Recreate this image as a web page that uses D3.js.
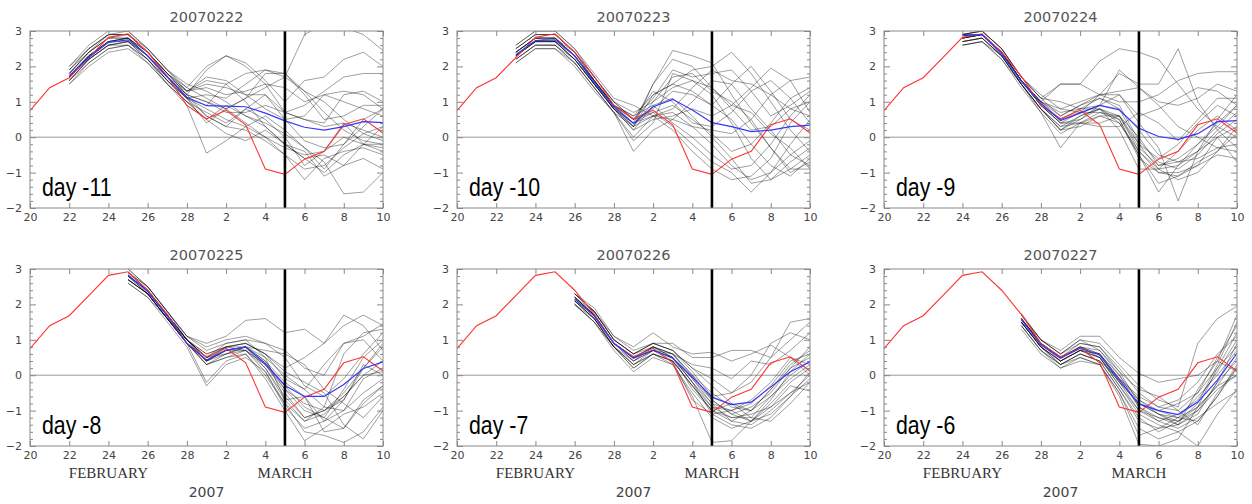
<!DOCTYPE html>
<html>
<head>
<meta charset="utf-8">
<script src="https://cdn.jsdelivr.net/npm/d3@7"></script>
<style>
  body { margin: 0; background: #fff; }
  .axis text { font-family: "DejaVu Sans", sans-serif; font-size: 11px; fill: #444; }
  .axis line { stroke: #888; }
  .axis path { display: none; }
</style>
</head>
<body>
<div id="chart"></div>
<script>
// day index 0 = Feb 20 ... 18 = Mar 10 (2007)
var tickDays = [0, 2, 4, 6, 8, 10, 12, 14, 16, 18];
var tickLabels = ["20", "22", "24", "26", "28", "2", "4", "6", "8", "10"];
var yTicks = [-2, -1, 0, 1, 2, 3];
var yTickLabels = ["\u22122", "\u22121", "0", "1", "2", "3"];
var eventDay = 13; // March 5

var titles = ["20070222", "20070223", "20070224", "20070225", "20070226", "20070227"];
var leadLabels = ["day -11", "day -10", "day -9", "day -8", "day -7", "day -6"];
var startDays = [2, 3, 4, 5, 6, 7];

// observed (red)
var observed = [0.75, 1.4, 1.68, 2.25, 2.82, 2.92, 2.4, 1.72, 0.9, 0.52, 0.76, 0.35, -0.9, -1.05, -0.62, -0.4, 0.35, 0.52, 0.12];

// ensemble means (blue)
var mean1 = [1.74, 2.25, 2.68, 2.75, 2.3, 1.7, 1.13, 0.89, 0.88, 0.86, 0.68, 0.46, 0.28, 0.2, 0.3, 0.44, 0.41];
var mean2 = [2.33, 2.73, 2.75, 2.3, 1.55, 0.86, 0.39, 0.86, 1.07, 0.77, 0.41, 0.3, 0.16, 0.2, 0.3, 0.34];
var mean3 = [2.87, 2.9, 2.35, 1.58, 0.95, 0.47, 0.68, 0.9, 0.77, 0.25, 0.02, -0.06, 0.1, 0.44, 0.47];
var mean4 = [2.83, 2.36, 1.67, 0.9, 0.43, 0.71, 0.79, 0.33, -0.29, -0.6, -0.6, -0.26, 0.19, 0.38];
var mean5 = [2.15, 1.67, 0.9, 0.48, 0.71, 0.48, -0.05, -0.62, -0.83, -0.76, -0.33, 0.1, 0.38];
var mean6 = [1.57, 0.86, 0.48, 0.76, 0.57, -0.14, -0.81, -1.0, -1.11, -0.76, -0.14, 0.62];

// ensemble members (black)
var members1 = [
  [1.5, 2.1, 2.5, 2.6, 2.2, 1.6, 1.1, 0.6, 0.3, 0.2, -0.1, -0.5, -0.9, -0.8, -0.3, 0.1, 0.3],
  [1.9, 2.5, 2.9, 2.9, 2.4, 1.8, 1.2, 1.9, 2.3, 2.0, 1.5, 0.7, 0.9, 1.3, 1.7, 1.8, 1.8],
  [1.7, 2.3, 2.7, 2.8, 2.3, 1.7, 1.2, 1.0, 0.8, 1.1, 1.4, 1.7, 2.9, 3.2, 3.1, 2.9, 2.45],
  [1.6, 2.2, 2.6, 2.7, 2.2, 1.5, 0.9, -0.45, -0.1, 0.3, 0.0, -0.5, -1.2, -0.6, -0.4, -0.3, -0.5],
  [2.0, 2.6, 3.0, 3.0, 2.5, 1.9, 1.5, 1.3, 1.0, 0.6, 0.4, 0.1, -0.3, -0.7, -1.6, -1.55, -1.0],
  [1.8, 2.4, 2.8, 2.9, 2.4, 1.8, 1.3, 1.7, 1.6, 1.2, 0.8, 0.5, 0.6, 1.2, 1.3, 1.2, 0.8],
  [1.6, 2.2, 2.6, 2.6, 2.1, 1.5, 1.0, 0.5, 0.1, -0.1, 0.2, -0.2, -0.6, -1.0, -0.5, -0.2, -0.3],
  [1.7, 2.3, 2.7, 2.8, 2.4, 1.8, 1.4, 2.0, 2.3, 2.1, 1.6, 1.0, 1.6, 1.7, 2.2, 2.4, 2.0],
  [1.9, 2.4, 2.8, 2.8, 2.3, 1.7, 1.1, 0.9, 1.5, 1.8, 1.9, 1.8, 1.3, 0.7, 0.2, -0.1, -0.2],
  [1.6, 2.1, 2.5, 2.6, 2.2, 1.6, 1.1, 0.4, 0.8, 0.4, 0.0, -0.3, -0.5, -0.4, 0.0, -0.2, -0.4],
  [1.8, 2.4, 2.9, 2.9, 2.5, 1.9, 1.4, 1.1, 0.8, 1.1, 1.8, 1.8, 1.2, 0.5, 0.6, 0.9, 0.9],
  [1.7, 2.3, 2.7, 2.7, 2.2, 1.6, 1.0, 0.7, 0.4, 0.8, 0.5, 0.0, -0.8, -0.4, 0.4, 0.2, 0.0],
  [1.5, 2.0, 2.4, 2.5, 2.1, 1.5, 1.0, 0.5, 0.9, 0.6, 0.3, -0.2, -0.4, -1.1, -0.8, -0.2, 0.3],
  [1.9, 2.5, 2.9, 3.0, 2.5, 1.9, 1.3, 1.4, 1.2, 1.3, 1.5, 1.4, 1.0, 1.2, 1.0, 0.8, 0.6],
  [1.7, 2.2, 2.6, 2.7, 2.3, 1.7, 1.2, 1.0, 0.7, 0.7, 0.9, 0.7, 0.5, 0.3, 0.4, -0.2, -0.2],
  [1.8, 2.4, 2.8, 2.8, 2.4, 1.7, 1.1, 0.8, 0.5, 0.3, 0.6, 0.2, -0.3, -0.9, -0.2, 0.3, 0.8],
  [1.6, 2.2, 2.6, 2.7, 2.3, 1.6, 1.1, 1.2, 1.1, 1.5, 1.9, 1.7, 1.3, 1.0, 0.5, 0.1, -0.1],
  [2.0, 2.5, 2.9, 2.9, 2.4, 1.8, 1.2, 0.6, 0.3, 0.8, 1.2, 0.5, -0.1, -0.3, -0.2, 0.5, 0.8],
  [1.7, 2.3, 2.7, 2.8, 2.3, 1.7, 1.3, 1.6, 1.5, 1.0, 0.3, -0.2, -0.6, -0.5, -0.8, -0.6, -0.9],
  [1.8, 2.3, 2.7, 2.8, 2.4, 1.8, 1.3, 1.5, 1.4, 1.2, 1.2, 0.7, 0.5, 0.4, 1.2, 1.3, 1.0]
];
var members2 = [
  [2.1, 2.5, 2.5, 2.0, 1.3, 0.7, 0.3, 1.5, 2.45, 2.3, 2.1, 1.2, 0.4, -0.3, -0.9, -0.9],
  [2.4, 2.8, 2.8, 2.3, 1.6, 0.9, 0.6, 1.2, 1.5, 1.9, 2.0, 2.4, 1.8, 1.0, 0.2, -0.4],
  [2.6, 3.0, 3.0, 2.5, 1.8, 1.1, 0.9, 0.6, 0.5, 0.3, 0.2, 0.1, 0.5, 1.2, 1.6, 1.7],
  [2.2, 2.6, 2.6, 2.1, 1.4, 0.7, 0.0, 0.6, 0.2, -0.4, -0.9, -1.2, -1.1, -0.6, 0.4, 1.0],
  [2.3, 2.7, 2.7, 2.2, 1.5, 0.8, 0.2, 0.9, 1.1, 0.6, 0.0, -0.6, -1.3, -1.2, -0.7, -0.3],
  [2.5, 2.9, 2.9, 2.4, 1.7, 1.0, 0.5, 1.1, 1.9, 1.7, 1.8, 1.9, 1.3, 0.6, 0.9, 1.3],
  [2.4, 2.8, 2.8, 2.4, 1.6, 0.9, 0.4, 0.7, 0.3, -0.2, -0.7, -1.0, -1.55, -1.0, -0.5, -0.1],
  [2.3, 2.7, 2.7, 2.2, 1.5, 0.8, 0.4, 1.5, 2.2, 2.0, 1.4, 0.9, 1.4, 1.95, 1.6, 0.7],
  [2.2, 2.6, 2.6, 2.1, 1.4, 0.7, -0.4, 0.2, 0.5, 1.0, 1.6, 1.5, 0.8, 0.2, -0.5, -0.8],
  [2.5, 2.9, 2.9, 2.4, 1.6, 0.9, 0.5, 0.8, 1.3, 1.2, 0.9, 0.5, -0.2, -0.8, -1.1, -0.6],
  [2.3, 2.7, 2.7, 2.2, 1.5, 0.8, 0.3, 0.6, 0.8, 1.4, 1.9, 1.6, 1.5, 1.2, 0.8, 1.0],
  [2.4, 2.8, 2.7, 2.3, 1.6, 0.9, 0.6, 0.9, 0.4, 0.0, -0.5, -0.9, -0.8, -0.2, 0.6, 1.2],
  [2.1, 2.5, 2.5, 2.1, 1.4, 0.7, -0.1, 0.4, 1.8, 1.6, 1.2, 0.4, -0.6, -1.2, -0.9, -0.5],
  [2.6, 3.0, 3.0, 2.5, 1.7, 1.0, 0.5, 1.3, 1.0, 0.4, 0.3, 0.7, 1.3, 1.6, 1.1, 0.4],
  [2.3, 2.7, 2.7, 2.2, 1.5, 0.8, 0.3, 1.0, 1.4, 1.6, 1.4, 0.8, 0.2, 0.3, 0.8, 0.6],
  [2.4, 2.8, 2.8, 2.3, 1.6, 0.8, 0.4, 0.6, 0.7, 0.3, -0.2, -0.8, -1.2, -1.0, -0.2, 0.5],
  [2.2, 2.6, 2.6, 2.2, 1.5, 0.9, 0.3, 1.2, 1.5, 1.3, 0.9, 1.5, 2.0, 1.3, 0.5, 0.2],
  [2.5, 2.9, 2.9, 2.4, 1.7, 1.0, 0.7, 1.0, 1.7, 1.8, 1.3, 1.0, 0.5, -0.3, -1.0, -0.7],
  [2.3, 2.7, 2.8, 2.3, 1.6, 0.9, 0.5, 0.7, 0.9, 0.5, 0.1, -0.4, -0.2, 0.4, 1.1, 1.4],
  [2.4, 2.8, 2.8, 2.3, 1.5, 0.8, 0.2, 0.5, 0.6, 0.8, 0.6, 0.9, 0.7, 0.1, -0.3, -0.9]
];
var members3 = [
  [2.6, 2.7, 2.3, 1.5, 0.7, -0.3, 0.4, 0.7, 0.6, 0.0, -0.8, -0.7, -0.6, -0.3, -0.2],
  [2.9, 3.0, 2.5, 1.7, 1.1, 1.5, 1.5, 2.15, 2.5, 2.4, 2.2, 1.5, 0.8, 0.3, 0.0],
  [2.8, 2.9, 2.4, 1.6, 1.0, 0.6, 0.9, 1.1, 0.9, -0.1, -0.7, -0.9, -0.5, 0.1, 0.5],
  [2.7, 2.8, 2.3, 1.5, 0.8, 0.2, 0.5, 0.8, 0.4, -0.5, -1.55, -0.8, -0.4, 0.2, 0.7],
  [2.9, 2.9, 2.4, 1.6, 1.0, 1.5, 1.5, 1.2, 1.2, 0.4, -0.3, -1.8, -0.4, 0.5, 1.2],
  [2.8, 2.9, 2.4, 1.6, 0.9, 0.4, 0.5, 0.9, 1.9, 1.4, 0.9, 0.3, 0.0, -0.3, -0.4],
  [2.6, 2.7, 2.2, 1.4, 0.7, 0.1, 0.4, 0.6, 0.4, -0.4, -0.9, -0.8, -0.2, 0.3, 0.9],
  [2.9, 3.0, 2.5, 1.7, 1.2, 0.8, 1.0, 1.2, 1.8, 1.5, 1.5, 2.5, 1.0, 0.2, -0.3],
  [2.8, 2.9, 2.4, 1.6, 0.9, 0.5, 0.8, 0.8, 0.5, -0.6, -1.0, -1.1, -0.8, -0.5, -0.6],
  [2.7, 2.8, 2.3, 1.5, 0.8, 0.3, 0.6, 0.8, 0.6, -0.3, -0.8, -0.6, -0.2, 0.4, 0.9],
  [2.9, 2.9, 2.4, 1.6, 1.0, 0.8, 0.7, 1.2, 1.0, 1.0, 1.2, 1.6, 1.8, 1.85, 1.85],
  [2.8, 2.9, 2.4, 1.6, 0.9, 0.4, 0.4, 0.4, 0.6, -0.2, -0.9, -1.2, -1.0, -0.4, 0.3],
  [2.7, 2.8, 2.3, 1.5, 0.8, 0.3, 0.4, 0.3, 0.3, 0.7, 0.4, -0.1, 0.5, 1.1, 1.1],
  [2.9, 3.0, 2.5, 1.7, 1.1, 0.6, 0.9, 1.2, 1.3, 1.4, 1.0, 0.9, 1.1, 1.5, 1.3],
  [2.8, 2.9, 2.4, 1.6, 1.0, 0.5, 0.7, 0.7, 0.5, -0.5, -1.3, -1.1, -0.7, -0.4, 0.1],
  [2.6, 2.7, 2.2, 1.5, 0.8, 0.2, 0.6, 0.8, 0.2, -0.9, -0.9, -0.4, 0.2, 0.6, 0.2],
  [2.8, 2.9, 2.4, 1.6, 1.0, 0.7, 0.8, 1.1, 0.8, -0.2, -0.6, -0.2, 0.4, 0.9, 0.6],
  [2.9, 3.0, 2.5, 1.7, 1.1, 1.0, 0.8, 0.9, 1.2, 0.6, 0.8, 1.1, 1.4, 1.3, 0.9],
  [2.7, 2.8, 2.3, 1.5, 0.8, 0.2, 0.3, 0.6, 0.6, -0.4, -1.0, -1.0, -0.8, 0.0, -0.7],
  [2.8, 2.9, 2.4, 1.6, 0.9, 0.4, 0.7, 0.9, 0.8, 0.2, -0.5, -0.7, -0.4, 0.0, 0.3]
];
var members4 = [
  [2.6, 2.2, 1.5, 0.8, -0.3, 0.3, 0.5, 0.1, -0.8, -1.6, -1.7, -1.9, -1.6, -0.9],
  [2.9, 2.5, 1.8, 1.1, 0.9, 1.1, 1.55, 1.6, 1.2, 1.3, 0.9, 1.4, 1.7, 1.4],
  [2.8, 2.4, 1.7, 1.0, 0.5, 0.8, 0.8, 0.3, -0.5, -1.2, -1.0, -0.5, 0.2, 0.8],
  [2.7, 2.3, 1.6, 0.9, 0.4, 0.7, 0.8, 0.2, -0.7, -1.3, -1.1, -0.6, 0.0, 0.4],
  [3.0, 2.5, 1.8, 1.1, 0.7, 0.9, 1.0, 0.9, 0.5, -0.3, -0.6, -0.1, 0.6, 1.2],
  [2.8, 2.3, 1.6, 0.9, 0.3, 0.6, 0.8, 0.4, -0.4, -1.0, -1.2, -1.5, -0.7, -0.3],
  [2.9, 2.4, 1.7, 1.0, 0.6, 0.8, 0.9, 0.6, 0.2, 0.5, 0.9, 1.7, 1.4, 0.7],
  [2.7, 2.3, 1.6, 0.9, -0.2, 0.4, 0.6, -0.1, -1.0, -1.85, -1.5, -1.1, -0.9, -0.5],
  [2.8, 2.4, 1.7, 1.0, 0.4, 0.8, 0.7, 0.3, -0.3, -0.9, -1.2, -0.4, 0.5, 1.0],
  [2.9, 2.5, 1.8, 1.0, 0.5, 0.9, 1.0, 0.5, 0.0, -0.4, -0.9, 0.6, 1.2, 1.3],
  [2.6, 2.2, 1.6, 0.9, 0.3, 0.5, 0.6, 0.0, -0.8, -1.3, -0.9, -1.0, -0.5, -0.1],
  [2.8, 2.4, 1.7, 1.0, 0.5, 0.7, 0.8, 0.7, 0.6, 0.3, -0.4, -0.8, -1.2, -0.6],
  [2.7, 2.3, 1.6, 0.9, 0.4, 0.6, 0.7, 0.2, -0.6, -1.2, -1.0, -0.6, 0.0, 0.1],
  [3.0, 2.5, 1.8, 1.1, 0.8, 1.0, 1.1, 0.9, 0.7, 0.2, 0.0, 0.9, 1.0, 0.4],
  [2.8, 2.4, 1.7, 1.0, 0.5, 0.6, 0.8, 0.4, -0.2, -0.6, -1.6, -1.5, -0.8, -0.3],
  [2.7, 2.3, 1.6, 0.9, 0.3, 0.5, 0.7, 0.1, -0.9, -1.5, -1.3, -1.0, -0.1, 0.2],
  [2.9, 2.4, 1.7, 1.0, 0.6, 0.8, 0.9, 0.6, -0.1, -0.4, 0.3, 0.9, 1.1, 1.45],
  [2.8, 2.3, 1.6, 0.9, 0.4, 0.7, 0.7, 0.3, -0.4, -0.8, -1.0, -0.7, 0.3, 0.0],
  [2.7, 2.3, 1.6, 1.0, 0.5, 0.8, 0.9, 0.6, 0.1, -0.2, -0.5, -1.4, -1.8, -1.0],
  [2.8, 2.4, 1.7, 1.0, 0.4, 0.7, 0.8, 0.5, -0.7, -0.6, -1.3, -0.7, 0.2, 0.9]
];
var members5 = [
  [2.0, 1.5, 0.7, 0.1, 0.5, 0.3, -0.6, -1.9, -1.85, -1.3, -0.9, -0.5, -0.2],
  [2.3, 1.9, 1.1, 0.8, 1.2, 0.8, 0.6, 0.65, 0.4, 0.6, 0.85, 0.5, 0.3],
  [2.2, 1.7, 0.9, 0.5, 0.8, 0.5, -0.1, -0.7, -1.1, -1.3, -0.8, -0.2, 0.2],
  [2.1, 1.6, 0.8, 0.3, 0.6, 0.4, -0.3, -1.0, -1.3, -1.4, -1.0, -0.5, 0.0],
  [2.3, 1.8, 1.0, 0.6, 0.9, 0.9, 0.5, 0.5, 0.7, 0.7, 0.5, 1.5, 1.6],
  [2.2, 1.7, 0.9, 0.4, 0.7, 0.5, -0.2, -0.9, -1.2, -1.2, -0.6, 0.0, 0.4],
  [2.1, 1.6, 0.9, 0.5, 0.7, 0.6, 0.0, -0.5, -0.9, -1.0, -0.4, 0.3, 0.7],
  [2.0, 1.5, 0.8, 0.2, 0.6, 0.3, -0.5, -1.2, -1.5, -1.3, -1.1, -0.6, -0.1],
  [2.3, 1.8, 1.0, 0.6, 0.9, 0.7, 0.2, -0.1, -0.5, 0.0, 0.9, 1.2, 1.0],
  [2.2, 1.7, 0.9, 0.5, 0.8, 0.6, -0.1, -0.8, -1.0, -0.8, -0.3, 0.4, 0.6],
  [2.1, 1.6, 0.8, 0.4, 0.7, 0.4, -0.3, -1.0, -1.2, -1.1, -0.9, -0.3, -0.45],
  [2.2, 1.8, 1.0, 0.6, 0.9, 0.7, 0.1, -0.6, -0.5, -0.2, 0.5, 1.0, 1.5],
  [2.0, 1.6, 0.8, 0.3, 0.7, 0.5, -0.2, -1.1, -1.4, -1.5, -1.2, -0.6, 0.1],
  [2.3, 1.8, 1.0, 0.6, 0.8, 0.6, 0.3, 0.2, -0.1, 0.4, 0.3, 0.7, 1.2],
  [2.1, 1.7, 0.9, 0.4, 0.8, 0.5, -0.4, -1.0, -0.8, -1.0, -0.6, -0.1, 0.3],
  [2.2, 1.7, 0.9, 0.5, 0.7, 0.5, -0.2, -0.8, -1.3, -1.0, -0.4, 0.2, 0.8],
  [2.1, 1.6, 0.8, 0.3, 0.6, 0.4, -0.7, -1.1, -1.0, -0.7, -0.2, 0.5, 0.0],
  [2.3, 1.8, 1.1, 0.7, 0.9, 0.7, 0.2, -0.3, -0.8, -1.2, -1.3, -0.8, -0.2],
  [2.2, 1.7, 0.9, 0.5, 0.8, 0.6, 0.0, -0.7, -1.1, -0.9, -0.5, 0.2, 0.5],
  [2.0, 1.5, 0.8, 0.2, 0.6, 0.4, -0.3, -0.9, -1.0, -1.3, -0.7, 0.1, 0.6]
];
var members6 = [
  [1.3, 0.6, 0.2, 0.4, 0.3, -0.6, -1.95, -2.0, -1.8, -0.9, -0.3, 0.0],
  [1.75, 1.0, 0.7, 1.1, 1.1, 0.5, 0.05, -0.2, -0.1, 0.0, 0.4, 0.1],
  [1.6, 0.9, 0.5, 0.8, 0.6, -0.1, -0.9, -1.2, -1.4, -1.0, -0.2, 0.9],
  [1.5, 0.8, 0.4, 0.7, 0.5, -0.3, -1.1, -1.4, -1.6, -1.3, -0.6, 0.3],
  [1.7, 1.0, 0.6, 1.0, 0.9, 0.3, -0.3, -0.7, -0.9, 0.9, 1.6, 1.95],
  [1.5, 0.8, 0.3, 0.6, 0.4, -0.4, -1.2, -1.6, -1.3, -0.9, 0.2, 1.2],
  [1.6, 0.9, 0.5, 0.8, 0.7, 0.0, -0.7, -1.1, -1.3, -0.8, 0.3, 1.5],
  [1.4, 0.7, 0.2, 0.5, 0.3, -0.5, -1.5, -1.8, -1.6, -2.0, -1.1, -0.4],
  [1.7, 1.0, 0.6, 0.9, 0.8, 0.2, -0.5, -0.9, -1.0, -0.5, 0.5, 1.4],
  [1.5, 0.8, 0.4, 0.7, 0.6, -0.2, -0.8, -1.0, -1.2, -0.6, 0.0, 0.7],
  [1.6, 0.9, 0.5, 0.8, 0.5, -0.3, -1.0, -1.3, -1.5, -1.2, -0.8, -0.45],
  [1.5, 0.8, 0.3, 0.6, 0.4, -0.1, -0.6, -0.9, -0.7, -0.2, 0.6, 1.1],
  [1.6, 0.9, 0.5, 0.9, 0.8, 0.1, -0.4, -0.6, -1.0, -1.4, -0.5, 0.2],
  [1.4, 0.7, 0.3, 0.6, 0.4, -0.4, -1.3, -1.5, -1.2, -0.9, -0.3, 0.5],
  [1.7, 1.0, 0.6, 1.0, 0.7, 0.1, -0.8, -1.1, -1.4, -0.4, 0.4, 1.7],
  [1.5, 0.8, 0.4, 0.7, 0.5, -0.2, -1.0, -1.2, -1.3, -1.0, -0.4, 0.0],
  [1.6, 0.9, 0.4, 0.7, 0.6, -0.1, -0.7, -1.0, -0.8, -0.5, 0.2, 0.8],
  [1.4, 0.7, 0.3, 0.5, 0.3, -0.5, -1.7, -1.5, -1.4, -1.1, -0.2, 0.4],
  [1.6, 0.9, 0.5, 0.8, 0.6, 0.0, -0.9, -1.3, -1.1, -0.7, 0.1, 1.0],
  [1.5, 0.8, 0.4, 0.7, 0.5, -0.2, -0.8, -1.1, -1.2, -1.3, -0.6, 0.2]
];

var means = [mean1, mean2, mean3, mean4, mean5, mean6];
var membersAll = [members1, members2, members3, members4, members5, members6];

// layout
var width = 353, height = 177;
var lefts = [30, 457, 884], tops = [31, 269];

var svg = d3.select("#chart")
  .append("svg")
    .attr("width", 1252)
    .attr("height", 504);

var x = d3.scaleLinear().domain([0, 18]).range([0, width]);
var y = d3.scaleLinear().domain([-2, 3]).range([height, 0]);

var minorY = d3.range(-2, 3.001, 0.2).filter(function(v) { return Math.abs(v - Math.round(v)) > 0.01; });

svg.append("defs").append("clipPath")
    .attr("id", "plotclip")
  .append("rect")
    .attr("width", width)
    .attr("height", height);

titles.forEach(function(title, i) {
  var start = startDays[i];
  var g = svg.append("g")
    .attr("transform", "translate(" + lefts[i % 3] + "," + tops[Math.floor(i / 3)] + ")");

  var line = d3.line()
    .x(function(d, j) { return x(start + j); })
    .y(function(d) { return y(d); });

  var plot = g.append("g").attr("clip-path", "url(#plotclip)");

  // zero line
  plot.append("line")
    .attr("x1", 0).attr("x2", width)
    .attr("y1", y(0)).attr("y2", y(0))
    .attr("stroke", "#999")
    .attr("stroke-width", 1);

  // ensemble members
  plot.selectAll(".member")
    .data(membersAll[i])
    .enter()
    .append("path")
      .attr("class", "member")
      .attr("d", line)
      .attr("fill", "none")
      .attr("stroke", "#000")
      .attr("stroke-opacity", 0.38)
      .attr("stroke-width", 1);

  // observation
  plot.append("path")
    .attr("d", d3.line().x(function(d, j) { return x(j); }).y(function(d) { return y(d); })(observed))
    .attr("fill", "none")
    .attr("stroke", "#ff3333")
    .attr("stroke-width", 1.1);

  // ensemble mean
  plot.append("path")
    .attr("d", line(means[i]))
    .attr("fill", "none")
    .attr("stroke", "#3636ff")
    .attr("stroke-width", 1.2);

  // event day
  g.append("line")
    .attr("x1", x(eventDay)).attr("x2", x(eventDay))
    .attr("y1", 0).attr("y2", height)
    .attr("stroke", "#000")
    .attr("stroke-width", 2.6);

  // frame
  g.append("rect")
    .attr("width", width)
    .attr("height", height)
    .attr("fill", "none")
    .attr("stroke", "#888")
    .attr("stroke-width", 1);

  // axes (ticks inward)
  g.append("g")
    .attr("class", "axis")
    .attr("transform", "translate(0," + height + ")")
    .call(d3.axisBottom(x).tickValues(tickDays).tickSize(-5).tickPadding(5)
      .tickFormat(function(d, k) { return tickLabels[k]; }));
  g.append("g")
    .attr("class", "axis")
    .call(d3.axisTop(x).tickValues(tickDays).tickSize(-5).tickFormat(""));

  g.append("g")
    .attr("class", "axis")
    .call(d3.axisLeft(y).tickValues(yTicks).tickSize(-6).tickPadding(8)
      .tickFormat(function(d, k) { return yTickLabels[k]; }));
  g.append("g")
    .attr("class", "axis")
    .call(d3.axisLeft(y).tickValues(minorY).tickSize(-3).tickFormat(""));
  g.append("g")
    .attr("class", "axis")
    .attr("transform", "translate(" + width + ",0)")
    .call(d3.axisRight(y).tickValues(yTicks).tickSize(-6).tickFormat(""));
  g.append("g")
    .attr("class", "axis")
    .attr("transform", "translate(" + width + ",0)")
    .call(d3.axisRight(y).tickValues(minorY).tickSize(-3).tickFormat(""));

  // title
  g.append("text")
    .attr("x", width / 2)
    .attr("y", -9)
    .attr("text-anchor", "middle")
    .style("font-family", "DejaVu Sans, sans-serif")
    .style("font-size", "14.5px")
    .style("fill", "#555")
    .text(title);

  // lead label
  g.append("text")
    .attr("transform", "translate(12," + (height - 12) + ") scale(0.82,1)")
    .style("font-family", "Liberation Sans, Arial, sans-serif")
    .style("font-size", "26px")
    .style("fill", "#000")
    .text(leadLabels[i]);

  // month and year labels on bottom row
  if (i >= 3) {
    g.append("text")
      .attr("x", x(4)).attr("y", height + 32)
      .attr("text-anchor", "middle")
      .style("font-family", "Liberation Serif, Times New Roman, serif")
      .style("font-size", "15px")
      .style("fill", "#333")
      .text("FEBRUARY");
    g.append("text")
      .attr("x", x(13)).attr("y", height + 32)
      .attr("text-anchor", "middle")
      .style("font-family", "Liberation Serif, Times New Roman, serif")
      .style("font-size", "15px")
      .style("fill", "#333")
      .text("MARCH");
    g.append("text")
      .attr("x", x(9)).attr("y", height + 51)
      .attr("text-anchor", "middle")
      .style("font-family", "DejaVu Sans, sans-serif")
      .style("font-size", "14px")
      .style("fill", "#444")
      .text("2007");
  }
});
</script>
</body>
</html>
